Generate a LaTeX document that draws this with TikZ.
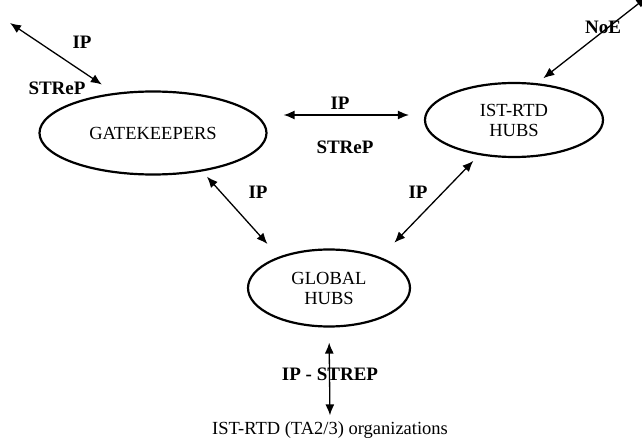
\documentclass[tikz,border=0pt]{standalone}
\usepackage{fontspec}
\setmainfont{Liberation Serif}
\usepackage{xcolor}
\usetikzlibrary{shapes.geometric,arrows.meta}

\begin{document}
\begin{tikzpicture}[x=1pt, y=-1pt,
      hub/.style={ellipse, draw, line width=2.2pt, align=center,
      font=\fontsize{18.5}{20}\selectfont, inner sep=0pt},
      lbl/.style={font=\bfseries\fontsize{19}{21}\selectfont, inner sep=0pt},
      arr/.style={{Latex[length=11pt,width=9pt]}-{Latex[length=11pt,width=9pt]}, line width=1.3pt} ]
        \useasboundingbox (0,0) rectangle (642,441);
        % hubs
        \node[hub, minimum width=227pt, minimum height=83pt] (gate) at (153,133) {GATEKEEPERS};
        \node[hub, minimum width=178pt, minimum height=74pt] (ist) at (514,120) {IST-RTD\\HUBS};
        \node[hub, minimum width=162pt, minimum height=77pt] (global) at (329,288) {GLOBAL\\HUBS};
        \node[font=\fontsize{18.5}{20}\selectfont, inner sep=2pt] (orgs) at (330,430) {IST-RTD (TA2/3) organizations};
        % outer ends
        \coordinate (outl) at (10,23);
        \coordinate (outr) at (647,-3);
        % connectors
        \draw[arr, shorten >=15pt] (outl) -- (gate.134);
        \draw[arr, shorten >=8pt] (outr) -- (ist.58);
        \draw[arr] ([xshift=16pt,yshift=18pt]gate.east) -- ([xshift=-15pt,yshift=5pt]ist.west);
        \draw[arr, shorten <=7pt, shorten >=17pt] (gate.-38) -- (global.148);
        \draw[arr, shorten <=8pt, shorten >=20pt] (ist.225.7) -- (global.31.8);
        \draw[arr, shorten <=15pt, shorten >=4pt] (global.south) -- (orgs.north);
        % labels
        \node[lbl] (ipa) at (82,42) {IP};
        \node[lbl] (strepa) at (57,88) {STReP};
        \node[lbl] (ipb) at (340,103) {IP};
        \node[lbl] (strepb) at (345,147) {STReP};
        \node[lbl] (noe) at (603,27) {NoE};
        \node[lbl] (ipc) at (258,192) {IP};
        \node[lbl] (ipd) at (418,192) {IP};
        \node[lbl] (ipe) at (330,374) {IP - STREP};
\end{tikzpicture}
\end{document}
